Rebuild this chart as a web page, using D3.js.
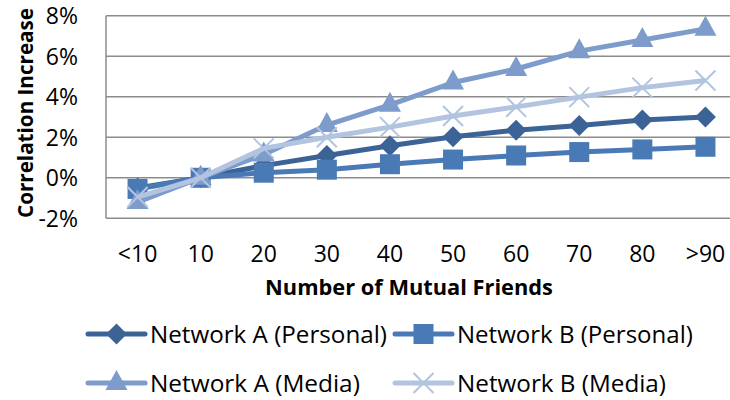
<!DOCTYPE html>
<html>
<head>
<meta charset="utf-8">
<script src="https://cdn.jsdelivr.net/npm/d3@7"></script>
<style>
  body { margin: 0; background: #fff; }
  svg { display: block; font-family: "Open Sans", Lato, sans-serif; }
</style>
</head>
<body>
<svg id="chart" width="730" height="400"></svg>
<script>
// values, in percent
const categories = ["<10", "10", "20", "30", "40", "50", "60", "70", "80", ">90"];
const yTicks = [-2, 0, 2, 4, 6, 8];

const netAPersonal = [-0.5, 0, 0.6, 1.1, 1.58, 2.03, 2.35, 2.58, 2.85, 3.0];
const netBPersonal = [-0.55, 0, 0.25, 0.4, 0.67, 0.9, 1.1, 1.27, 1.4, 1.53];
const netAMedia = [-1.2, 0, 1.15, 2.6, 3.6, 4.7, 5.37, 6.25, 6.8, 7.35];
const netBMedia = [-0.95, 0, 1.45, 2.0, 2.5, 3.05, 3.5, 3.98, 4.45, 4.8];

const seriesNames = ["Network A (Personal)", "Network B (Personal)", "Network A (Media)", "Network B (Media)"];
const seriesColors = ["#3b6396", "#4a7ab5", "#7d9bcb", "#b2c4df"];
const seriesMarkers = ["diamond", "square", "triangle", "cross"];

const series = seriesNames.map((name, i) => ({
    name: name,
    values: [netAPersonal, netBPersonal, netAMedia, netBMedia][i],
    color: seriesColors[i],
    marker: seriesMarkers[i]
}));

const svg = d3.select("#chart");

const plot = { left: 106, right: 737, top: 15.7, bottom: 218.3 };

const x = d3.scaleBand()
    .domain(categories)
    .range([plot.left, plot.right]);

const y = d3.scaleLinear()
    .domain([-2, 8])
    .range([plot.bottom, plot.top]);

// shrink/grow a text node's font so it spans about `width` px
function fitWidth(sel, width) {
    sel.each(function() {
        const len = this.getComputedTextLength();
        const fs = parseFloat(d3.select(this).attr("font-size"));
        d3.select(this).attr("font-size", fs * width / len);
    });
}

// gridlines
svg.append("g")
    .selectAll("line")
    .data(yTicks)
    .join("line")
    .attr("x1", plot.left)
    .attr("x2", plot.right)
    .attr("y1", d => y(d))
    .attr("y2", d => y(d))
    .attr("stroke", "#8c8c8c")
    .attr("stroke-width", 1.5);

// vertical axis line
svg.append("line")
    .attr("x1", plot.left).attr("x2", plot.left)
    .attr("y1", y(8)).attr("y2", y(-2))
    .attr("stroke", "#8c8c8c")
    .attr("stroke-width", 1.5);

// y axis labels
const yAxis = d3.axisLeft(y)
    .tickValues(yTicks)
    .tickFormat(d => d + "%")
    .tickSize(0)
    .tickPadding(28);

svg.append("g")
    .attr("transform", `translate(${plot.left},0)`)
    .call(yAxis)
    .call(g => g.select(".domain").remove())
    .selectAll("text")
    .attr("font-family", "'Open Sans', sans-serif")
    .attr("font-size", 23)
    .attr("fill", "#000")
    .attr("dy", "0.35em");

// x axis labels
const xAxis = d3.axisBottom(x).tickSize(0).tickPadding(44);

svg.append("g")
    .attr("transform", `translate(0,${plot.bottom})`)
    .call(xAxis)
    .call(g => g.select(".domain").remove())
    .selectAll("text")
    .attr("font-family", "'Open Sans', sans-serif")
    .attr("font-size", 23)
    .attr("fill", "#000")
    .attr("dy", "0");

// axis titles
svg.append("text")
    .attr("transform", "translate(33,113) rotate(-90)")
    .attr("text-anchor", "middle")
    .attr("font-weight", "bold")
    .attr("font-size", 19)
    .text("Correlation Increase")
    .call(fitWidth, 210);

svg.append("text")
    .attr("x", 409)
    .attr("y", 295)
    .attr("text-anchor", "middle")
    .attr("font-weight", "bold")
    .attr("font-size", 19)
    .text("Number of Mutual Friends")
    .call(fitWidth, 288);

function drawMarker(g, type, color) {
    if (type === "diamond") {
        g.append("path").attr("d", "M0,-10.5L10.5,0L0,10.5L-10.5,0Z").attr("fill", color);
    } else if (type === "square") {
        g.append("rect").attr("x", -10).attr("y", -10).attr("width", 20).attr("height", 20).attr("fill", color);
    } else if (type === "triangle") {
        g.append("path").attr("d", "M0,-13L11,7L-11,7Z").attr("fill", color);
    } else {
        g.append("path").attr("d", "M-10,-10L10,10M-10,10L10,-10")
            .attr("stroke", color).attr("stroke-width", 2).attr("fill", "none");
    }
}

const line = d3.line()
    .x((d, i) => x(categories[i]) + x.bandwidth() / 2)
    .y(d => y(d));

series.forEach(s => {
    const g = svg.append("g");
    g.append("path")
        .attr("d", line(s.values))
        .attr("fill", "none")
        .attr("stroke", s.color)
        .attr("stroke-width", 5)
        .attr("stroke-linejoin", "round");
    s.values.forEach((v, i) => {
        const m = g.append("g")
            .attr("transform", `translate(${x(categories[i]) + x.bandwidth() / 2},${y(v)})`);
        drawMarker(m, s.marker, s.color);
    });
});

// legend
const legendPos = [[88, 334], [395, 334], [88, 383], [395, 383]];
const legendTextWidth = [237, 236, 210, 209];
series.forEach((s, i) => {
    const [lx, ly] = legendPos[i];
    const g = svg.append("g").attr("transform", `translate(${lx},${ly})`);
    g.append("line")
        .attr("x1", 0).attr("x2", 57)
        .attr("y1", 0).attr("y2", 0)
        .attr("stroke", s.color)
        .attr("stroke-width", 5)
        .attr("stroke-linecap", "round");
    const m = g.append("g").attr("transform", "translate(28.5,0)");
    drawMarker(m, s.marker, s.color);
    g.append("text")
        .attr("x", 62)
        .attr("y", 0)
        .attr("dy", "0.36em")
        .attr("font-size", 22.5)
        .text(s.name)
        .call(fitWidth, legendTextWidth[i]);
});
</script>
</body>
</html>
